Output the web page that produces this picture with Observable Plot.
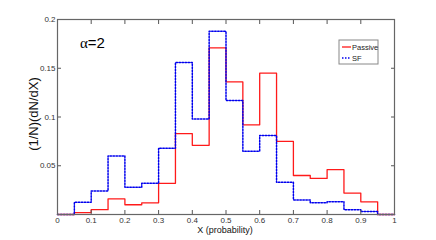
<!DOCTYPE html>
<html><head><meta charset="utf-8">
<script src="https://cdn.jsdelivr.net/npm/d3@7"></script>
<script src="https://cdn.jsdelivr.net/npm/@observablehq/plot@0.6"></script>
<style>body{margin:0;background:#fff;font-family:"Liberation Sans",Arial,sans-serif}#c{position:relative;width:436px;height:240px}</style>
</head><body><div id="c"></div>
<script>
const binStarts = [0,0.05,0.1,0.15,0.2,0.25,0.3,0.35,0.4,0.45,0.5,0.55,0.6,0.65,0.7,0.75,0.8,0.85,0.9,0.95];
const passive = [0,0.002,0.005,0.016,0.010,0.012,0.032,0.083,0.071,0.171,0.136,0.092,0.145,0.075,0.040,0.037,0.046,0.022,0.013,0];
const sf = [0,0.0125,0.024,0.060,0.028,0.032,0.068,0.156,0.098,0.188,0.117,0.065,0.081,0.033,0.015,0.012,0.013,0.005,0.003,0];
const xTicks = [0,0.1,0.2,0.3,0.4,0.5,0.6,0.7,0.8,0.9,1];
const yTicks = [0.05,0.1,0.15,0.2];
const binWidth = 0.05;

function steps(vals){
  const pts = binStarts.map((x,i)=>({x, y: vals[i]}));
  pts.push({x: binStarts[binStarts.length-1]+binWidth, y: vals[vals.length-1]});
  return pts;
}
const fmt = d => d===0?"0":d===1?"1":String(d);
const chart = Plot.plot({
  width: 436, height: 240,
  marginLeft: 57, marginRight: 42, marginTop: 19, marginBottom: 26,
  style: {fontFamily: '"Liberation Sans",Arial,sans-serif', fontSize: "8px", color: "#333"},
  x: {domain: [0,1], ticks: xTicks, tickFormat: fmt, label: null},
  y: {domain: [0,0.2], ticks: yTicks, tickFormat: fmt, label: null},
  marks: [
    Plot.line(steps(passive), {x:"x", y:"y", curve:"step-after", stroke:"#ff1a1a", strokeWidth:1.3}),
    Plot.line(steps(sf), {x:"x", y:"y", curve:"step-after", stroke:"#0000ee", strokeWidth:1.5, strokeDasharray:"1.5,1.5"}),
    Plot.axisX({ticks: xTicks, tickFormat: fmt, tickSize: -4, tickPadding: 7, stroke:"#555"}),
    Plot.axisX({anchor:"top", ticks: xTicks, tickFormat: () => "", tickSize: -4, stroke:"#555"}),
    Plot.axisY({ticks: yTicks, tickFormat: fmt, tickSize: -4, tickPadding: 6, stroke:"#555"}),
    Plot.axisY({anchor:"right", ticks: yTicks, tickFormat: () => "", tickSize: -4, stroke:"#555"}),
    Plot.frame({stroke:"#666", strokeWidth: 1.2})
  ]
});
document.getElementById("c").appendChild(chart);
const svg = d3.select(chart);
// alpha label
const t = svg.append("text").attr("x",80).attr("y",48).attr("text-anchor","start").attr("font-size","15px").attr("fill","#000");
t.append("tspan").attr("font-family","Liberation Serif, serif").text("α");
t.append("tspan").attr("font-family","Liberation Sans, Arial, sans-serif").text("=2");
// axis labels
svg.append("text").attr("transform","translate(38,114) rotate(-90)").attr("text-anchor","middle")
  .attr("font-size","13px").attr("fill","#111").text("(1/N)(dN/dX)");
svg.append("text").attr("x",225).attr("y",233).attr("text-anchor","middle")
  .attr("font-size","9px").attr("fill","#111").text("X (probability)");
// legend
const lg = svg.append("g").attr("text-anchor","start");
lg.append("rect").attr("x",339).attr("y",40).attr("width",39).attr("height",24).attr("fill","#fff").attr("stroke","#888");
lg.append("line").attr("x1",342).attr("x2",351).attr("y1",47).attr("y2",47).attr("stroke","#ff1a1a").attr("stroke-width",1.3);
lg.append("line").attr("x1",342).attr("x2",351).attr("y1",58).attr("y2",58).attr("stroke","#0000ee").attr("stroke-width",1.5).attr("stroke-dasharray","1.5,1.5");
lg.append("text").attr("x",352).attr("y",50).attr("font-size","7.5px").attr("fill","#222").text("Passive");
lg.append("text").attr("x",352).attr("y",61).attr("font-size","7.5px").attr("fill","#222").text("SF");
</script></body></html>
